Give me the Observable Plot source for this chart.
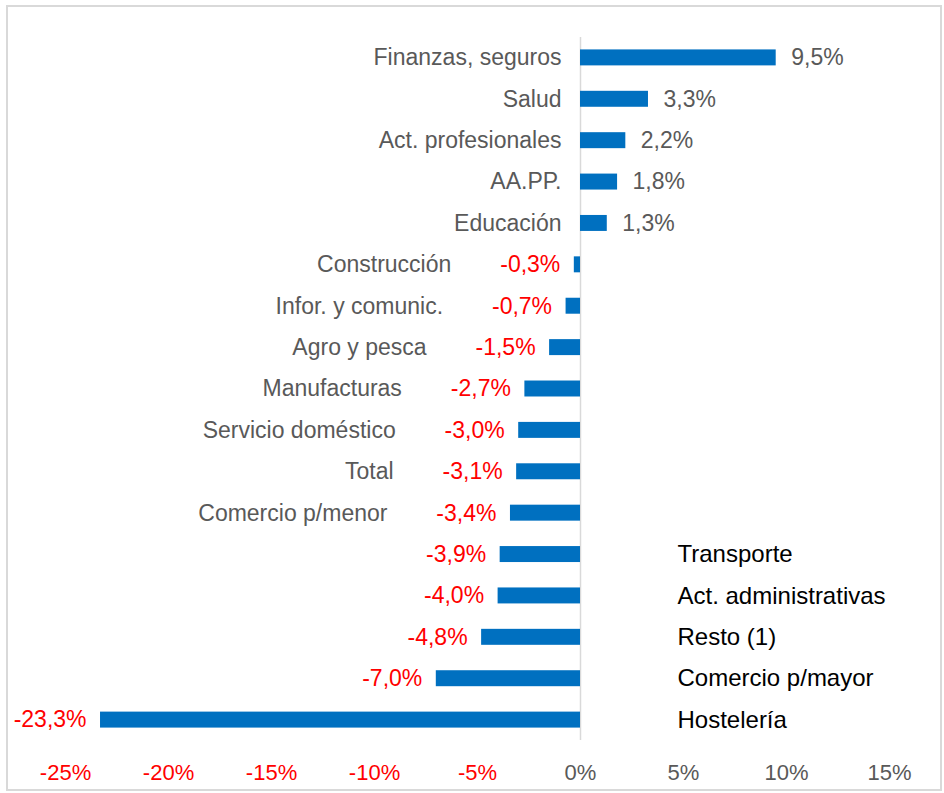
<!DOCTYPE html>
<html>
<head>
<meta charset="utf-8">
<script src="https://cdn.jsdelivr.net/npm/d3@7"></script>
<script src="https://cdn.jsdelivr.net/npm/@observablehq/plot@0.6"></script>
<style>
  html, body { margin: 0; padding: 0; background: #fff; }
  #wrap { position: relative; width: 944px; height: 793px; }
  #border { position: absolute; left: 6px; top: 5px; width: 932px; height: 782px; border: 2px solid #d9d9d9; pointer-events: none; }
  svg { font-family: "Liberation Sans", Arial, sans-serif; }
</style>
</head>
<body>
<div id="wrap"><div id="border"></div></div>
<script>
const categories = ["Finanzas, seguros","Salud","Act. profesionales","AA.PP.","Educación","Construcción","Infor. y comunic.","Agro y pesca","Manufacturas","Servicio doméstico","Total","Comercio p/menor","Transporte","Act. administrativas","Resto (1)","Comercio p/mayor","Hostelería"];
const values = [9.5, 3.3, 2.2, 1.8, 1.3, -0.3, -0.7, -1.5, -2.7, -3.0, -3.1, -3.4, -3.9, -4.0, -4.8, -7.0, -23.3];
const labelSide = ["left","left","left","left","left","left","left","left","left","left","left","left","right","right","right","right","right"];
const xTicks = [-25, -20, -15, -10, -5, 0, 5, 10, 15];

const data = categories.map((c, i) => ({cat: c, v: values[i], side: labelSide[i]}));
const fmt = v => v.toFixed(1).replace(".", ",") + "%";

const pos = data.filter(d => d.v >= 0);
const neg = data.filter(d => d.v < 0);
const negLeft = neg.filter(d => d.side === "left");
const right = data.filter(d => d.side === "right");

const chart = Plot.plot({
  width: 944,
  height: 793,
  marginLeft: 65,
  marginRight: 55,
  marginTop: 24,
  marginBottom: 40,
  style: {fontFamily: '"Liberation Sans", Arial, sans-serif', background: "transparent"},
  x: {domain: [-25, 15]},
  y: {domain: categories, padding: 0.614, round: false, axis: null},
  marks: [
    Plot.ruleX([0], {stroke: "#d9d9d9", strokeWidth: 1.5, insetTop: 13, insetBottom: 13}),
    Plot.barX(data, {x: "v", y: "cat", fill: "#0070C0"}),
    Plot.text(pos, {x: "v", y: "cat", text: d => fmt(d.v), textAnchor: "start", dx: 15, fill: "#595959", fontSize: 23}),
    Plot.text(neg, {x: "v", y: "cat", text: d => fmt(d.v), textAnchor: "end", dx: -14, fill: "#ff0000", fontSize: 23}),
    Plot.text(pos, {x: 0, y: "cat", text: "cat", textAnchor: "end", dx: -19, fill: "#595959", fontSize: 23}),
    Plot.text(negLeft, {x: "v", y: "cat", text: "cat", textAnchor: "end", dx: -123, fill: "#595959", fontSize: 23}),
    Plot.text(right, {x: 0, y: "cat", text: "cat", textAnchor: "start", dx: 97, fill: "#000000", fontSize: 24}),
    Plot.axisX(xTicks, {tickSize: 0, tickPadding: 11, tickFormat: d => d + "%", fill: d => d < 0 ? "#ff0000" : "#595959", fontSize: 22, label: null})
  ]
});
document.getElementById("wrap").prepend(chart);
</script>
</body>
</html>
